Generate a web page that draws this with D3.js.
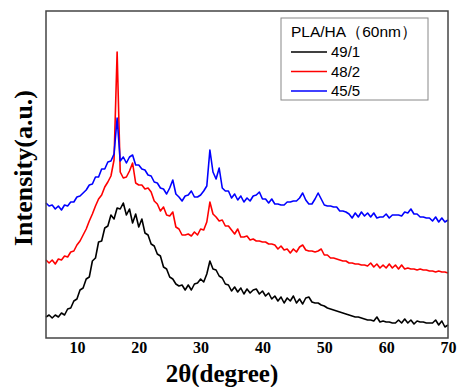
<!DOCTYPE html>
<html>
<head>
<meta charset="utf-8">
<script src="https://cdn.jsdelivr.net/npm/d3@7"></script>
<style>
  body { margin: 0; background: #fff; }
  svg { display: block; }
</style>
</head>
<body>
<svg id="chart" width="457" height="387"></svg>
<script>
// 2θ from 5 to 70, step 0.5
const twoThetaStart = 5, twoThetaStep = 0.5
const xTicks = [10, 20, 30, 40, 50, 60, 70]
const seriesNames = ["49/1", "48/2", "45/5"]
const seriesColors = ["#000000", "#ff0000", "#0000ff"]
const legendTitle = "PLA/HA（60nm）"

const ratio49_1 = [
  21, 23, 20, 23, 21, 25, 23, 29, 30, 37,
  39, 48, 50, 59, 61, 77, 80, 96, 97, 110,
  112, 123, 119, 130, 129, 135, 123, 129, 115, 124,
  111, 119, 105, 103, 94, 92, 84, 82, 71, 69,
  61, 59, 54, 52, 53, 48, 53, 48, 54, 55,
  59, 56, 64, 77, 69, 68, 62, 60, 54, 53,
  47, 51, 46, 50, 44, 49, 45, 48, 49, 44,
  47, 42, 45, 39, 42, 37, 41, 35, 40, 37,
  42, 35, 39, 34, 40, 41, 36, 35, 35, 33,
  32, 30, 29, 28, 27, 26, 25, 24, 23, 22,
  21, 21, 20, 19, 18, 18, 17, 21, 16, 17,
  16, 16, 15, 15, 18, 15, 19, 15, 18, 14,
  17, 16, 16, 15, 15, 15, 18, 13, 17, 11,
  13
]

const ratio48_2 = [
  78, 75, 78, 74, 79, 78, 82, 81, 86, 87,
  93, 97, 103, 109, 117, 124, 132, 139, 143, 151,
  156, 162, 178, 286, 166, 160, 161, 167, 175, 155,
  153, 153, 149, 150, 146, 137, 134, 127, 131, 123,
  122, 126, 111, 109, 103, 103, 104, 102, 106, 103,
  109, 108, 116, 136, 124, 121, 117, 118, 112, 112,
  108, 104, 109, 101, 101, 102, 98, 99, 97, 97,
  96, 96, 94, 94, 93, 89, 92, 88, 89, 85,
  89, 86, 91, 93, 88, 87, 87, 86, 87, 89,
  83, 83, 80, 80, 79, 78, 77, 77, 75, 75,
  74, 74, 73, 73, 72, 75, 71, 74, 70, 73,
  70, 74, 70, 73, 69, 73, 69, 70, 69, 69,
  68, 69, 68, 68, 67, 67, 66, 67, 66, 66,
  65
]

const ratio45_5 = [
  135, 132, 133, 129, 132, 128, 133, 132, 136, 136,
  141, 142, 145, 148, 153, 154, 161, 161, 169, 169,
  176, 177, 184, 220, 177, 181, 175, 181, 183, 173,
  173, 169, 168, 163, 162, 156, 155, 150, 149, 144,
  150, 158, 144, 141, 137, 142, 143, 147, 141, 141,
  143, 147, 152, 188, 166, 159, 170, 150, 147, 147,
  140, 144, 138, 142, 136, 140, 137, 142, 143, 146,
  139, 139, 135, 139, 134, 134, 133, 133, 136, 136,
  137, 137, 140, 145, 138, 134, 134, 139, 145, 139,
  133, 132, 132, 131, 131, 127, 127, 126, 124, 120,
  125, 121, 126, 122, 125, 121, 125, 120, 121, 121,
  124, 120, 123, 123, 123, 122, 126, 125, 129, 124,
  124, 121, 121, 120, 120, 117, 121, 116, 120, 116,
  118
]

const allSeries = [ratio49_1, ratio48_2, ratio45_5]

const svg = d3.select("#chart")
const plot = {left: 46, top: 11, right: 448, bottom: 338}

const x = d3.scaleLinear().domain([5, 70]).range([plot.left, plot.right])
const y = d3.scaleLinear().domain([0, 327]).range([plot.bottom, plot.top])

// curves
const line = d3.line()
  .x((d, i) => x(twoThetaStart + i * twoThetaStep))
  .y(d => y(d))

allSeries.forEach((s, k) => {
  svg.append("path")
    .datum(s)
    .attr("d", line)
    .attr("fill", "none")
    .attr("stroke", seriesColors[k])
    .attr("stroke-width", 1.6)
    .attr("stroke-linejoin", "round")
})

// frame
svg.append("rect")
  .attr("x", plot.left)
  .attr("y", plot.top)
  .attr("width", plot.right - plot.left)
  .attr("height", plot.bottom - plot.top)
  .attr("fill", "none")
  .attr("stroke", "#444")
  .attr("stroke-width", 1.5)

// x axis, labels only
const xAxis = d3.axisBottom(x).tickValues(xTicks).tickSize(0).tickPadding(4)
const gx = svg.append("g")
  .attr("transform", `translate(0,${plot.bottom})`)
  .call(xAxis)
gx.select(".domain").remove()
gx.selectAll("text")
  .attr("font-family", "'Liberation Serif', 'Times New Roman', serif")
  .attr("font-weight", "bold")
  .attr("font-size", "16px")
  .attr("fill", "#000")

// axis titles
svg.append("text")
  .attr("x", 222)
  .attr("y", 382)
  .attr("text-anchor", "middle")
  .attr("font-family", "'Liberation Serif', 'Times New Roman', serif")
  .attr("font-weight", "bold")
  .attr("font-size", "25px")
  .text("2θ(degree)")

svg.append("text")
  .attr("transform", "translate(32,168) rotate(-90)")
  .attr("text-anchor", "middle")
  .attr("font-family", "'Liberation Serif', 'Times New Roman', serif")
  .attr("font-weight", "bold")
  .attr("font-size", "26px")
  .text("Intensity(a.u.)")

// legend
const legend = svg.append("g").attr("transform", "translate(281,18)")
legend.append("rect")
  .attr("width", 147)
  .attr("height", 82)
  .attr("fill", "#fff")
  .attr("stroke", "#888")
  .attr("stroke-width", 1)
legend.append("text")
  .attr("x", 10)
  .attr("y", 19)
  .attr("font-family", "'Liberation Sans', Arial, sans-serif")
  .attr("font-size", "15.5px")
  .text(legendTitle)

seriesNames.forEach((name, i) => {
  const ly = 34 + i * 19.5
  legend.append("line")
    .attr("x1", 10).attr("x2", 46)
    .attr("y1", ly).attr("y2", ly)
    .attr("stroke", seriesColors[i])
    .attr("stroke-width", 1.5)
  legend.append("text")
    .attr("x", 50)
    .attr("y", ly)
    .attr("dy", "0.36em")
    .attr("font-family", "'Liberation Sans', Arial, sans-serif")
    .attr("font-size", "15px")
    .text(name)
})
</script>
</body>
</html>
